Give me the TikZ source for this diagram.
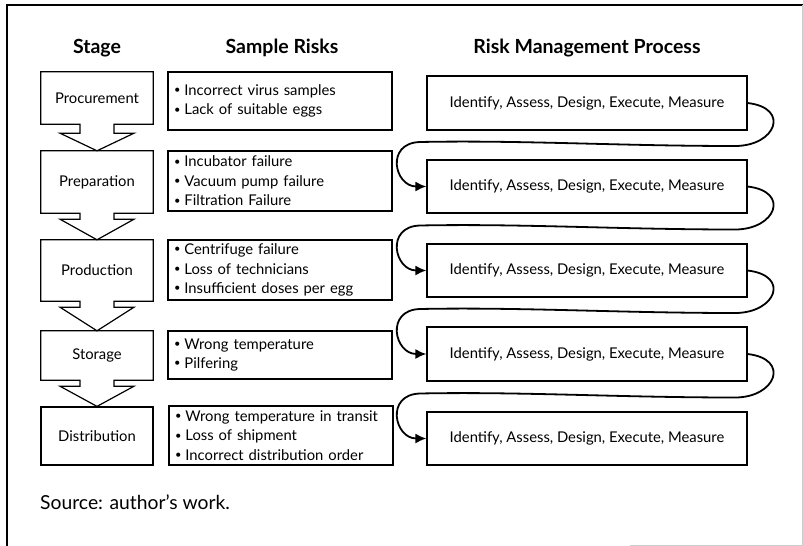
\documentclass[tikz,border=0pt]{standalone}
\usepackage{fontspec}
\setmainfont{Lato}
\usetikzlibrary{arrows.meta}
\newcommand\bul{\raisebox{0.12em}{\scalebox{0.75}{\textbullet}}\hspace{4pt}}
\begin{document}
\begin{tikzpicture}[x=1pt,y=-1pt,
  body/.style={font=\fontsize{14.8}{19.5}\selectfont},
  head/.style={font=\fontsize{19.5}{22}\selectfont\bfseries},
  stagebox/.style={body,minimum width=112pt,inner sep=0pt},
  riskbox/.style={body,draw,line width=1.2pt,minimum width=224pt,text width=212pt,inner xsep=6pt,inner ysep=0pt,align=left},
  rmbox/.style={body,draw,line width=1.2pt,minimum width=320pt,inner sep=0pt},
  outline/.style={line width=1.2pt,line join=miter},
  conn/.style={line width=1.8pt,-{Latex[length=11pt,width=10pt]}}]
\useasboundingbox (0,0) rectangle (803,546);
% frame
\draw[line width=1.2pt] (7,546) -- (7,5) -- (803,5);
\draw[black!20,line width=0.8pt] (802,5) -- (802,545) -- (630,545);
% headers
\node[head] (h1) at (97,48) {Stage};
\node[head] (h2) at (282,48) {Sample Risks};
\node[head] (h3) at (587,48) {Risk Management Process};
% stages
\node[stagebox,minimum height=52pt] (s1) at (97,98) {Procurement};
\node[stagebox,minimum height=62pt] (s2) at (97,182) {Preparation};
\node[stagebox,minimum height=61pt] (s3) at (97,270.5) {Production};
\node[stagebox,minimum height=49pt] (s4) at (97,355.5) {Storage};
\node[stagebox,draw,line width=1.2pt,minimum height=58pt] (s5) at (97,436) {Distribution};
\foreach \a/\b/\d in {s1/s2/9, s2/s3/6, s3/s4/6, s4/s5/6}{
  \draw[outline] (\a.north west) -- (\a.north east) -- (\a.south east)
    -- ([xshift=17pt]\a.south) -- ([xshift=17pt,yshift=-\d pt]\a.south)
    -- ([xshift=37pt,yshift=-\d pt]\a.south) -- (\b.north)
    -- ([xshift=-37pt,yshift=-\d pt]\a.south) -- ([xshift=-17pt,yshift=-\d pt]\a.south)
    -- ([xshift=-17pt]\a.south) -- (\a.south west) -- cycle;
}
% risks
\node[riskbox,minimum height=58pt] (r1) at (280,101) {\bul Incorrect virus samples\\\bul Lack of suitable eggs};
\node[riskbox,minimum height=60pt] (r2) at (280,181) {\bul Incubator failure\\\bul Vacuum pump failure\\\bul Filtration Failure};
\node[riskbox,minimum height=60pt] (r3) at (280,270) {\bul Centrifuge failure\\\bul Loss of technicians\\\bul Insufficient doses per egg};
\node[riskbox,minimum height=48pt] (r4) at (280,355) {\bul Wrong temperature\\\bul Pilfering};
\node[riskbox,minimum height=59pt] (r5) at (281,435.5) {\bul Wrong temperature in transit\\\bul Loss of shipment\\\bul Incorrect distribution order};
% risk management
\node[rmbox,minimum height=54pt] (rm1) at (587,103) {Identify, Assess, Design, Execute, Measure};
\node[rmbox,minimum height=53pt] (rm2) at (587,186.5) {Identify, Assess, Design, Execute, Measure};
\node[rmbox,minimum height=53pt] (rm3) at (587,270.5) {Identify, Assess, Design, Execute, Measure};
\node[rmbox,minimum height=54pt] (rm4) at (587,354) {Identify, Assess, Design, Execute, Measure};
\node[rmbox,minimum height=53pt] (rm5) at (587,438.5) {Identify, Assess, Design, Execute, Measure};
% connectors
\foreach \a/\b/\g in {rm1/rm2/145, rm2/rm3/228.5, rm3/rm4/312, rm4/rm5/396.5}{
  \draw[conn] (\a.east) .. controls +(43,5) and +(41,0) .. (735,\g+1)
    .. controls +(-115,0) and +(100,-2) .. (420,\g-3)
    .. controls +(-35,1) and +(-32,0) .. (\b.west);
}
% source
\node[font=\fontsize{19.3}{22}\selectfont,anchor=west,inner sep=0pt] (src) at (40,502) {Source: author’s work.};
\end{tikzpicture}
\end{document}
